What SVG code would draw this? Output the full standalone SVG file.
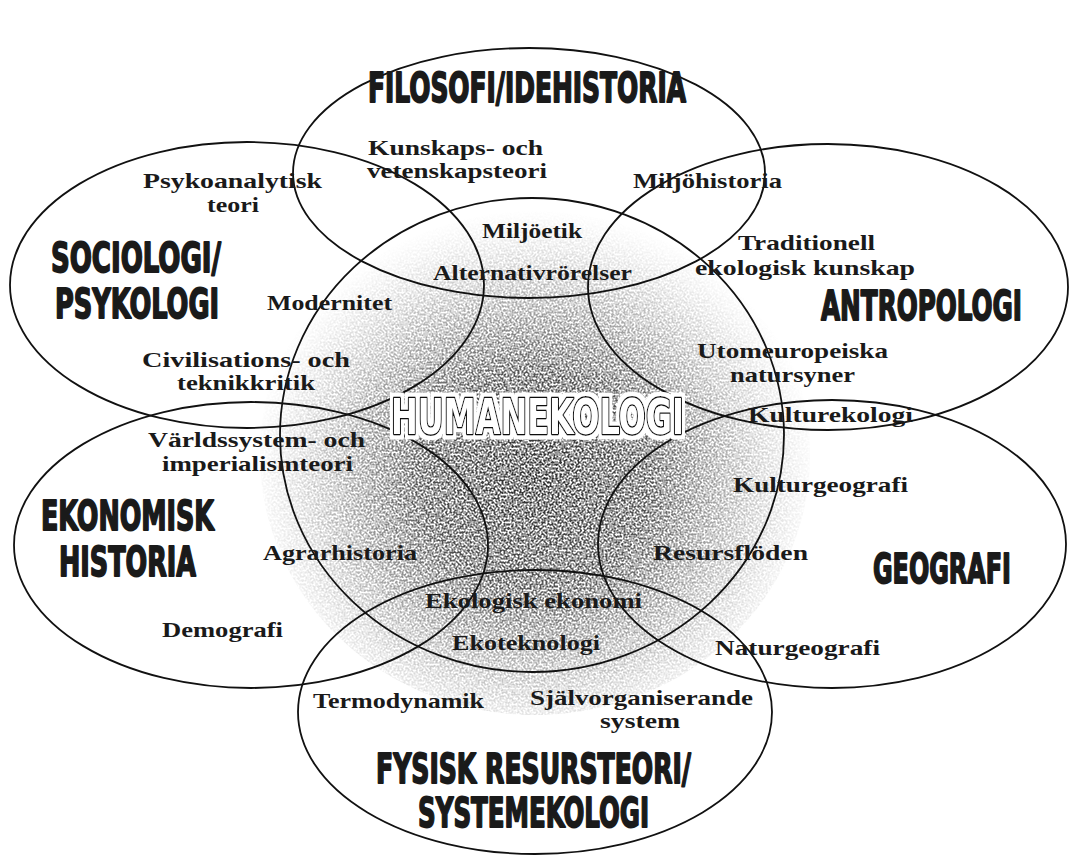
<svg xmlns="http://www.w3.org/2000/svg" width="1070" height="856" viewBox="0 0 1070 856">
<style>
.ring{fill:none;stroke:#111;stroke-width:1.8}
.lbl{font-family:"Liberation Serif","Times New Roman",serif;font-weight:bold;font-size:21px;fill:#1a1a1a}
.ttl{font-family:"Liberation Sans Narrow","DejaVu Sans Condensed","Liberation Sans",sans-serif;font-weight:bold;font-size:30px;fill:#1a1a1a;stroke:#1a1a1a;stroke-width:1.3;stroke-linejoin:round}
.hum{font-family:"Liberation Sans Narrow","DejaVu Sans Condensed","Liberation Sans",sans-serif;font-weight:bold;font-size:38px;fill:#fff;stroke:#111;stroke-width:2.2;stroke-linejoin:round;paint-order:stroke}
</style>
<defs>
<radialGradient id="shade" cx="0.5" cy="0.55" r="0.52">
<stop offset="0" stop-color="#2a2a2a" stop-opacity="1"/>
<stop offset="0.4" stop-color="#333" stop-opacity="0.85"/>
<stop offset="0.75" stop-color="#555" stop-opacity="0.35"/>
<stop offset="1" stop-color="#888" stop-opacity="0"/>
</radialGradient>
<filter id="grain" x="0" y="0" width="1" height="1">
<feTurbulence type="fractalNoise" baseFrequency="0.5" numOctaves="2" seed="7" result="n"/>
<feColorMatrix in="n" type="matrix" values="0 0 0 0 0 0 0 0 0 0 0 0 0 0 0 3.2 0 0 0 -1.1" result="na"/>
<feComposite in="SourceGraphic" in2="na" operator="in"/>
</filter>
<filter id="halo" x="-5%" y="-20%" width="110%" height="140%">
<feMorphology in="SourceAlpha" operator="dilate" radius="3" result="d"/>
<feFlood flood-color="#fff"/>
<feComposite in2="d" operator="in" result="w"/>
<feMerge><feMergeNode in="w"/><feMergeNode in="SourceGraphic"/></feMerge>
</filter>
</defs>
<rect width="1070" height="856" fill="#fff"/>
<ellipse cx="535" cy="455" rx="275" ry="260" fill="url(#shade)" filter="url(#grain)"/>
<g id="connectors">
<ellipse class="ring" cx="529" cy="173" rx="236" ry="125"/>
<ellipse class="ring" cx="247" cy="285" rx="237" ry="143"/>
<ellipse class="ring" cx="828" cy="287" rx="240" ry="143"/>
<ellipse class="ring" cx="251" cy="545" rx="237" ry="143"/>
<ellipse class="ring" cx="832" cy="544" rx="234" ry="144"/>
<ellipse class="ring" cx="535" cy="712" rx="237" ry="142"/>
<ellipse class="ring" cx="532" cy="435" rx="252" ry="237"/>
</g>
<g id="filosofi">
<text class="ttl" transform="translate(368,102) scale(1,1.37)" textLength="318" lengthAdjust="spacingAndGlyphs">FILOSOFI/IDEHISTORIA</text>
<text class="lbl" x="368" y="155" textLength="175" lengthAdjust="spacingAndGlyphs">Kunskaps-  och</text>
<text class="lbl" x="367" y="178" textLength="180" lengthAdjust="spacingAndGlyphs">vetenskapsteori</text>
<text class="lbl" x="633" y="188" textLength="149" lengthAdjust="spacingAndGlyphs">Miljöhistoria</text>
</g>
<g id="sociologi">
<text class="ttl" transform="translate(51,272) scale(1,1.37)" textLength="170" lengthAdjust="spacingAndGlyphs">SOCIOLOGI/</text>
<text class="ttl" transform="translate(55,318) scale(1,1.37)" textLength="164" lengthAdjust="spacingAndGlyphs">PSYKOLOGI</text>
<text class="lbl" x="143" y="188" textLength="179" lengthAdjust="spacingAndGlyphs">Psykoanalytisk</text>
<text class="lbl" x="207" y="212" textLength="52" lengthAdjust="spacingAndGlyphs">teori</text>
<text class="lbl" x="267" y="310" textLength="125" lengthAdjust="spacingAndGlyphs">Modernitet</text>
<text class="lbl" x="142" y="367" textLength="208" lengthAdjust="spacingAndGlyphs">Civilisations-  och</text>
<text class="lbl" x="177" y="390" textLength="138" lengthAdjust="spacingAndGlyphs">teknikkritik</text>
</g>
<g id="antropologi">
<text class="ttl" transform="translate(821,320) scale(1,1.37)" textLength="201" lengthAdjust="spacingAndGlyphs">ANTROPOLOGI</text>
<text class="lbl" x="738" y="250" textLength="137" lengthAdjust="spacingAndGlyphs">Traditionell</text>
<text class="lbl" x="695" y="275" textLength="220" lengthAdjust="spacingAndGlyphs">ekologisk  kunskap</text>
<text class="lbl" x="697" y="358" textLength="191" lengthAdjust="spacingAndGlyphs">Utomeuropeiska</text>
<text class="lbl" x="730" y="382" textLength="125" lengthAdjust="spacingAndGlyphs">natursyner</text>
<text class="lbl" x="748" y="422" textLength="165" lengthAdjust="spacingAndGlyphs">Kulturekologi</text>
</g>
<g id="ekonomisk">
<text class="ttl" transform="translate(41,530) scale(1,1.37)" textLength="173" lengthAdjust="spacingAndGlyphs">EKONOMISK</text>
<text class="ttl" transform="translate(59,576) scale(1,1.37)" textLength="137" lengthAdjust="spacingAndGlyphs">HISTORIA</text>
<text class="lbl" x="148" y="447" textLength="217" lengthAdjust="spacingAndGlyphs">Världssystem-  och</text>
<text class="lbl" x="162" y="471" textLength="191" lengthAdjust="spacingAndGlyphs">imperialismteori</text>
<text class="lbl" x="263" y="560" textLength="154" lengthAdjust="spacingAndGlyphs">Agrarhistoria</text>
<text class="lbl" x="162" y="637" textLength="121" lengthAdjust="spacingAndGlyphs">Demografi</text>
</g>
<g id="geografi">
<text class="ttl" transform="translate(873,583) scale(1,1.37)" textLength="138" lengthAdjust="spacingAndGlyphs">GEOGRAFI</text>
<text class="lbl" x="733" y="492" textLength="175" lengthAdjust="spacingAndGlyphs">Kulturgeografi</text>
<text class="lbl" x="653" y="560" textLength="155" lengthAdjust="spacingAndGlyphs">Resursflöden</text>
<text class="lbl" x="715" y="655" textLength="165" lengthAdjust="spacingAndGlyphs">Naturgeografi</text>
</g>
<g id="fysisk">
<text class="ttl" transform="translate(376,783) scale(1,1.37)" textLength="315" lengthAdjust="spacingAndGlyphs">FYSISK RESURSTEORI/</text>
<text class="ttl" transform="translate(418,827) scale(1,1.37)" textLength="231" lengthAdjust="spacingAndGlyphs">SYSTEMEKOLOGI</text>
<text class="lbl" x="313" y="708" textLength="171" lengthAdjust="spacingAndGlyphs">Termodynamik</text>
<text class="lbl" x="530" y="705" textLength="223" lengthAdjust="spacingAndGlyphs">Självorganiserande</text>
<text class="lbl" x="600" y="728" textLength="80" lengthAdjust="spacingAndGlyphs">system</text>
</g>
<g id="humanekologi">
<text class="hum" transform="translate(391,434) scale(1,1.32)" textLength="293" lengthAdjust="spacingAndGlyphs" filter="url(#halo)">HUMANEKOLOGI</text>
<text class="lbl" x="482" y="238" textLength="100" lengthAdjust="spacingAndGlyphs">Miljöetik</text>
<text class="lbl" x="433" y="280" textLength="199" lengthAdjust="spacingAndGlyphs">Alternativrörelser</text>
<text class="lbl" x="425" y="608" textLength="217" lengthAdjust="spacingAndGlyphs">Ekologisk  ekonomi</text>
<text class="lbl" x="452" y="650" textLength="148" lengthAdjust="spacingAndGlyphs">Ekoteknologi</text>
</g>
</svg>
